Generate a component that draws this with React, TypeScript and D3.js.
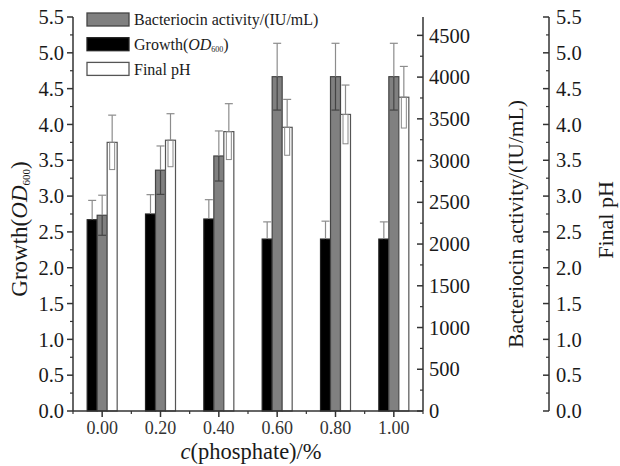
import React from "react";
import * as d3 from "d3";

const categories = [0, 0.2, 0.4, 0.6, 0.8, 1.0];
const categoryLabels = ["0.00", "0.20", "0.40", "0.60", "0.80", "1.00"];
const growth = [2.67, 2.75, 2.68, 2.4, 2.4, 2.4];
const growthErr = [0.27, 0.27, 0.27, 0.24, 0.25, 0.24];
const bacteriocin = [2345, 2885, 3055, 4005, 4005, 4005];
const bacteriocinErr = [240, 290, 300, 400, 400, 400];
const finalPH = [3.75, 3.78, 3.9, 3.96, 4.14, 4.38];
const finalPHErr = [0.38, 0.37, 0.39, 0.39, 0.41, 0.43];
const leftTicks = [0, 0.5, 1, 1.5, 2, 2.5, 3, 3.5, 4, 4.5, 5, 5.5];
const bactTicks = [0, 500, 1000, 1500, 2000, 2500, 3000, 3500, 4000, 4500];

const FONT = "Liberation Serif";
const AX = "#333";
const TS = { fontFamily: FONT } as React.CSSProperties;

export default function App() {
  const W = 620, H = 466;
  const x = d3.scaleLinear().domain([-0.1, 1.1]).range([73, 423]);
  const yL = d3.scaleLinear().domain([0, 5.5]).range([411, 17]);
  const yB = d3.scaleLinear().domain([0, 4720]).range([411, 17]);
  const yR = yL;
  const sub = d3.scaleBand().domain(["g", "b", "p"]).range([-15, 15]);
  const bw = sub.bandwidth();

  const leftMinor = d3.range(0.25, 5.5, 0.5);
  const bactMinor = d3.range(250, 4720, 500);
  const xMinor = d3.range(-0.1, 1.11, 0.2);

  const series = [
    { key: "g", vals: growth, errs: growthErr, scale: yL, fill: "#000", stroke: "#222", lowColor: "#000", lowRect: false },
    { key: "b", vals: bacteriocin, errs: bacteriocinErr, scale: yB, fill: "#808080", stroke: "#444", lowColor: "#444", lowRect: false },
    { key: "p", vals: finalPH, errs: finalPHErr, scale: yR, fill: "#fff", stroke: "#555", lowColor: "#888", lowRect: true },
  ];

  const errColor = "#8c8c8c";

  return (
    <svg width={W} height={H} style={{ position: "absolute", left: 0, top: 0, background: "#fff", fontFamily: FONT }}>
      <rect x={0} y={0} width={W} height={H} fill="#fff" />
      {series.map((s) =>
        categories.map((c, i) => {
          const x0 = x(c) + (sub(s.key) as number);
          const yTop = s.scale(s.vals[i]);
          const y0 = s.scale(0);
          const yHi = s.scale(s.vals[i] + s.errs[i]);
          const yLo = s.scale(s.vals[i] - s.errs[i]);
          const cx = x0 + bw / 2;
          return (
            <g key={s.key + i}>
              <rect x={x0} y={yTop} width={bw} height={y0 - yTop} fill={s.fill} stroke={s.stroke} strokeWidth={1.2} />
              <line x1={cx} x2={cx} y1={yTop} y2={yHi} stroke={errColor} strokeWidth={1.2} />
              <line x1={cx - 4} x2={cx + 4} y1={yHi} y2={yHi} stroke={errColor} strokeWidth={1.2} />
              {s.lowRect ? (
                <rect x={cx - 2.5} y={yTop} width={5} height={yLo - yTop} fill="none" stroke={s.lowColor} strokeWidth={1} />
              ) : (
                <g>
                  <line x1={cx} x2={cx} y1={yTop} y2={yLo} stroke={s.lowColor} strokeWidth={1.2} />
                  <line x1={cx - 4} x2={cx + 4} y1={yLo} y2={yLo} stroke={s.lowColor} strokeWidth={1.2} />
                </g>
              )}
            </g>
          );
        })
      )}

      <line x1={73} x2={73} y1={yL(5.5)} y2={yL(0)} stroke={AX} strokeWidth={1.5} />
      {leftTicks.map((t) => (
        <g key={"lt" + t}>
          <line x1={67} x2={73} y1={yL(t)} y2={yL(t)} stroke={AX} strokeWidth={1.5} />
          <text style={TS} x={64} y={yL(t)} dy="0.35em" textAnchor="end" fontSize={20.5} fill="#1a1a1a">{t.toFixed(1)}</text>
        </g>
      ))}
      {leftMinor.map((t) => (
        <line key={"lm" + t} x1={70} x2={73} y1={yL(t)} y2={yL(t)} stroke={AX} strokeWidth={1.2} />
      ))}

      <line x1={73} x2={423} y1={411} y2={411} stroke={AX} strokeWidth={1.5} />
      {categories.map((c, i) => (
        <g key={"xt" + i}>
          <line x1={x(c)} x2={x(c)} y1={411} y2={417} stroke={AX} strokeWidth={1.5} />
          <text style={TS} x={x(c)} y={434} textAnchor="middle" fontSize={18} fill="#333">{categoryLabels[i]}</text>
        </g>
      ))}
      {xMinor.map((t) => (
        <line key={"xm" + t} x1={x(t)} x2={x(t)} y1={411} y2={414} stroke={AX} strokeWidth={1.2} />
      ))}
      <text style={TS} x={251} y={459} textAnchor="middle" fontSize={22.5} fill="#1a1a1a">
        <tspan fontStyle="italic">c</tspan>(phosphate)/%
      </text>

      <line x1={423} x2={423} y1={17} y2={411} stroke={AX} strokeWidth={1.5} />
      {bactTicks.map((t) => (
        <g key={"bt" + t}>
          <line x1={417} x2={423} y1={yB(t)} y2={yB(t)} stroke={AX} strokeWidth={1.5} />
          <text style={TS} x={429} y={yB(t)} dy="0.35em" textAnchor="start" fontSize={20.5} fill="#1a1a1a">{t}</text>
        </g>
      ))}
      {bactMinor.map((t) => (
        <line key={"bm" + t} x1={420} x2={423} y1={yB(t)} y2={yB(t)} stroke={AX} strokeWidth={1.2} />
      ))}
      <text style={TS} transform={`translate(523,224) rotate(-90)`} textAnchor="middle" fontSize={21.5} fill="#1a1a1a">
        Bacteriocin activity/(IU/mL)
      </text>

      <line x1={549} x2={549} y1={17} y2={411} stroke={AX} strokeWidth={1.5} />
      {leftTicks.map((t) => (
        <g key={"rt" + t}>
          <line x1={543} x2={549} y1={yR(t)} y2={yR(t)} stroke={AX} strokeWidth={1.5} />
          <text style={TS} x={556} y={yR(t)} dy="0.35em" textAnchor="start" fontSize={20.5} fill="#1a1a1a">{t.toFixed(1)}</text>
        </g>
      ))}
      {leftMinor.map((t) => (
        <line key={"rm" + t} x1={546} x2={549} y1={yR(t)} y2={yR(t)} stroke={AX} strokeWidth={1.2} />
      ))}
      <text style={TS} transform={`translate(613,220) rotate(-90)`} textAnchor="middle" fontSize={22} fill="#1a1a1a">
        Final pH
      </text>

      <text style={TS} transform={`translate(27,229) rotate(-90)`} textAnchor="middle" fontSize={23} fill="#1a1a1a">
        Growth(<tspan fontStyle="italic">OD</tspan><tspan fontSize={11} dy={3}>600</tspan><tspan dy={-3}>)</tspan>
      </text>

      {[
        { fill: "#808080", stroke: "#444", label: "bact" },
        { fill: "#000", stroke: "#222", label: "growth" },
        { fill: "#fff", stroke: "#555", label: "ph" },
      ].map((l, i) => {
        const cy = 19.5 + i * 24.7;
        return (
          <g key={"lg" + i}>
            <rect x={87} y={cy - 6.5} width={42} height={13} fill={l.fill} stroke={l.stroke} strokeWidth={1.3} />
            <text style={TS} x={134} y={cy} dy="0.35em" fontSize={16} fill="#1a1a1a">
              {l.label === "bact" && "Bacteriocin activity/(IU/mL)"}
              {l.label === "growth" && (
                <>
                  Growth(<tspan fontStyle="italic">OD</tspan><tspan fontSize={8} dy={2}>600</tspan><tspan dy={-2}>)</tspan>
                </>
              )}
              {l.label === "ph" && "Final pH"}
            </text>
          </g>
        );
      })}
    </svg>
  );
}
